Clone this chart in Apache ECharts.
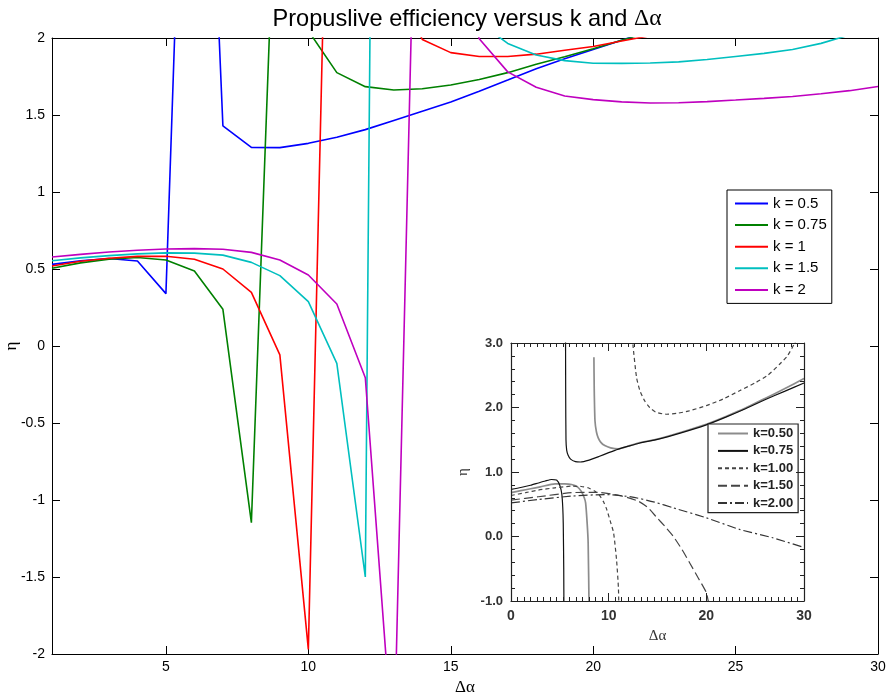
<!DOCTYPE html>
<html><head><meta charset="utf-8">
<script src="https://cdn.jsdelivr.net/npm/echarts@6/dist/echarts.min.js"></script>
<style>html,body{margin:0;padding:0;background:#fff}#c{width:890px;height:697px}</style>
</head><body><div id="c"></div>
<script>
// ---------- main chart data (x = Δα, 1..30) ----------
const xValues = [1,2,3,4,5,6,7,8,9,10,11,12,13,14,15,16,17,18,19,20,21,22,23,24,25,26,27,28,29,30];
const k05  = [0.53,0.553,0.568,0.552,0.34,5.8,1.43,1.29,1.288,1.316,1.355,1.405,1.465,1.525,1.585,1.655,1.727,1.80,1.865,1.925,1.985,2.05,2.11,2.17,2.23,2.29,2.35,2.41,2.47,2.53];
const k075 = [0.505,0.54,0.563,0.575,0.558,0.487,0.238,-1.147,3.86,2.047,1.775,1.684,1.662,1.67,1.695,1.73,1.775,1.83,1.878,1.93,1.985,2.04,2.1,2.16,2.22,2.28,2.34,2.4,2.46,2.52];
const k1   = [0.52,0.55,0.57,0.582,0.583,0.563,0.50,0.348,-0.058,-1.97,6.0,3.5,2.4,1.99,1.905,1.88,1.88,1.895,1.92,1.945,1.98,2.015,2.05,2.09,2.13,2.17,2.21,2.25,2.29,2.33];
const k15  = [0.554,0.572,0.587,0.598,0.605,0.603,0.59,0.543,0.457,0.288,-0.113,-1.50,20,5,3,2.1,1.965,1.89,1.853,1.836,1.835,1.838,1.845,1.86,1.88,1.90,1.925,1.965,2.02,2.07];
const k2   = [0.578,0.595,0.61,0.622,0.63,0.632,0.628,0.608,0.558,0.461,0.273,-0.206,-2.7,5.05,2.6,1.995,1.78,1.68,1.623,1.60,1.585,1.578,1.58,1.587,1.597,1.608,1.62,1.638,1.658,1.685];
const mainXTicks = [5,10,15,20,25,30];
const mainNames = ['k = 0.5','k = 0.75','k = 1','k = 1.5','k = 2'];

// ---------- inset data ----------
const i075UpX = [5.58,5.6,5.63,5.7,5.85,6.1,6.6,7.1,8,9,10,11,12,13.2,15,17.5,20,22,24,26,28,30];
const i075UpY = [3.3,2.2,1.5,1.34,1.26,1.2,1.16,1.155,1.185,1.24,1.3,1.355,1.40,1.45,1.505,1.61,1.73,1.85,1.98,2.12,2.25,2.38];
const i075LoX = [0,1,2,2.8,3.5,4.16,4.67,5.0,5.2,5.3,5.35,5.4,5.42];
const i075LoY = [0.73,0.76,0.795,0.83,0.86,0.884,0.875,0.79,0.66,0.45,0.2,-0.5,-1.2];
const i050UpX = [8.49,8.52,8.6,8.75,8.93,9.2,9.6,10.2,11,12,13.2,15,17.5,20,22,24,26,28,30];
const i050UpY = [2.78,2.3,1.79,1.62,1.53,1.46,1.41,1.375,1.36,1.40,1.455,1.51,1.62,1.74,1.86,1.99,2.14,2.29,2.45];
const i050LoX = [0,1,2,3,4.5,5.5,6.2,6.8,7.2,7.5,7.64,7.8,7.9,8.0];
const i050LoY = [0.68,0.71,0.74,0.77,0.815,0.815,0.806,0.77,0.70,0.6,0.52,0.2,-0.1,-1.2];
const i100UpX = [12.4,12.5,12.86,13.2,13.7,14.2,14.8,15.9,17,18.3,20,21.7,23.4,25.1,26.3,27.5,28.3,29.05,29.3];
const i100UpY = [3.2,2.95,2.46,2.26,2.10,2.0,1.93,1.895,1.91,1.95,2.03,2.13,2.26,2.39,2.5,2.67,2.8,3.0,3.1];
const i100LoX = [0,1.5,2.8,4.5,6.2,7.2,7.9,8.6,9.1,9.5,9.8,10.2,10.5,10.8,11.0,11.05];
const i100LoY = [0.636,0.68,0.72,0.755,0.78,0.775,0.755,0.7,0.63,0.53,0.42,0.22,0.06,-0.35,-0.8,-1.2];
const i150X = [0,2.8,6.2,8.9,11.3,13,14,14.9,15.8,16.6,17.5,18.3,19.2,20,20.2,20.4];
const i150Y = [0.565,0.616,0.68,0.685,0.63,0.55,0.45,0.30,0.15,0.006,-0.2,-0.41,-0.65,-0.87,-1.0,-1.1];
const i200X = [0,2.8,6.2,9.6,12.3,14.7,16.6,20,23.4,26.8,30];
const i200Y = [0.52,0.574,0.626,0.65,0.615,0.533,0.445,0.29,0.11,-0.02,-0.17];
const insetNames = ['k=0.50','k=0.75','k=1.00','k=1.50','k=2.00'];

const pair = (xs, ys) => xs.map((x, i) => [x, ys[i]]);
const SANS = 'Liberation Sans, Arial, sans-serif';
const NARROW = 'Liberation Sans Narrow, Arial Narrow, Liberation Sans, Arial, sans-serif';
const SERIF = 'Liberation Serif, Times New Roman, serif';

const mainColors = ['#0000ff','#008000','#ff0000','#00bfbf','#bf00bf'];
const mainData = [k05, k075, k1, k15, k2];
const series = mainData.map((arr, i) => ({
  name: mainNames[i], type: 'line', xAxisIndex: 0, yAxisIndex: 0,
  data: pair(xValues, arr), symbol: 'none', clip: true,
  lineStyle: { color: mainColors[i], width: 1.6 }, itemStyle: { color: mainColors[i] }
}));

const insetStyles = {
  'k=0.50': { color: '#8c8c8c', width: 1.7, type: 'solid' },
  'k=0.75': { color: '#111111', width: 1.2, type: 'solid' },
  'k=1.00': { color: '#444444', width: 1.2, type: [4, 3] },
  'k=1.50': { color: '#444444', width: 1.2, type: [9, 4] },
  'k=2.00': { color: '#333333', width: 1.2, type: [9, 3, 2, 3] }
};
function insetSeries(name, data) {
  const st = insetStyles[name];
  return { name, type: 'line', xAxisIndex: 2, yAxisIndex: 2, data, symbol: 'none', clip: true,
    smooth: 0.2, lineStyle: st, itemStyle: { color: st.color }, z: 5 };
}
series.push(insetSeries('k=0.50', pair(i050UpX, i050UpY)));
series.push(insetSeries('k=0.50', pair(i050LoX, i050LoY)));
series.push(insetSeries('k=0.75', pair(i075UpX, i075UpY)));
series.push(insetSeries('k=0.75', pair(i075LoX, i075LoY)));
series.push(insetSeries('k=1.00', pair(i100UpX, i100UpY)));
series.push(insetSeries('k=1.00', pair(i100LoX, i100LoY)));
series.push(insetSeries('k=1.50', pair(i150X, i150Y)));
series.push(insetSeries('k=2.00', pair(i200X, i200Y)));

const blackLine = { show: true, onZero: false, lineStyle: { color: '#000', width: 1 } };
const insetLine = { show: true, onZero: false, lineStyle: { color: '#222', width: 1.2 } };
const insetLabel = { fontFamily: NARROW, fontWeight: 'bold', fontSize: 13, color: '#333' };

const option = {
  animation: false,
  backgroundColor: '#fff',
  title: {
    text: 'Propuslive efficiency versus k and {s|Δα}',
    left: 462, top: 2, textAlign: 'center',
    textStyle: { fontFamily: SANS, fontSize: 23.6, fontWeight: 'normal', color: '#000',
      rich: { s: { fontFamily: SERIF, fontSize: 23.6, color: '#000' } } }
  },
  grid: [
    { left: 52, right: 12, top: 38, bottom: 43, outerBoundsMode: 'none', containLabel: false },
    { left: 511, top: 343, width: 293, height: 258, outerBoundsMode: 'none', containLabel: false,
      show: true, backgroundColor: '#fff', borderWidth: 0 }
  ],
  legend: [
    { data: mainNames, orient: 'vertical', left: 727, top: 190, padding: [6, 5, 6, 7],
      itemWidth: 33, itemHeight: 14, itemGap: 6.6, borderColor: '#000', borderWidth: 1,
      backgroundColor: '#fff', selectedMode: false, itemStyle: { opacity: 0 },
      textStyle: { fontFamily: SANS, fontSize: 15, color: '#000' } },
    { data: insetNames, orient: 'vertical', left: 708, top: 424, padding: [3, 5, 3, 9],
      itemWidth: 30, itemHeight: 14, itemGap: 4.4, borderColor: '#222', borderWidth: 1.2,
      backgroundColor: '#fff', selectedMode: false, z: 6, itemStyle: { opacity: 0 },
      textStyle: { fontFamily: SANS, fontSize: 13, fontWeight: 'bold', color: '#222' } }
  ],
  xAxis: [
    { type: 'value', gridIndex: 0, min: 1, max: 30, position: 'bottom',
      axisLine: blackLine, splitLine: { show: false },
      axisTick: { show: true, inside: true, length: 8, customValues: mainXTicks, lineStyle: { color: '#000' } },
      axisLabel: { customValues: mainXTicks, fontFamily: SANS, fontSize: 14, color: '#000', margin: 6 },
      name: 'Δα', nameLocation: 'middle', nameGap: 25, nameMoveOverlap: false,
      nameTextStyle: { fontFamily: SERIF, fontSize: 17, color: '#000' } },
    { type: 'value', gridIndex: 0, min: 1, max: 30, position: 'top',
      axisLine: blackLine, splitLine: { show: false },
      axisTick: { show: true, inside: true, length: 8, customValues: mainXTicks, lineStyle: { color: '#000' } },
      axisLabel: { show: false } },
    { type: 'value', gridIndex: 1, min: 0, max: 30, interval: 10, position: 'bottom', z: 10,
      axisLine: insetLine, splitLine: { show: false },
      axisTick: { show: true, inside: true, length: 8, lineStyle: { color: '#222' } },
      minorTick: { show: true, splitNumber: 15, length: 4, lineStyle: { color: '#222' } },
      axisLabel: Object.assign({ margin: 8 }, insetLabel, { fontSize: 14 }),
      name: 'Δα', nameLocation: 'middle', nameGap: 28,
      nameTextStyle: { fontFamily: SERIF, fontSize: 15, color: '#333' } },
    { type: 'value', gridIndex: 1, min: 0, max: 30, interval: 10, position: 'top', z: 10,
      axisLine: insetLine, splitLine: { show: false },
      axisTick: { show: true, inside: true, length: 8, lineStyle: { color: '#222' } },
      minorTick: { show: true, splitNumber: 15, length: 4, lineStyle: { color: '#222' } },
      axisLabel: { show: false } }
  ],
  yAxis: [
    { type: 'value', gridIndex: 0, min: -2, max: 2, interval: 0.5, position: 'left',
      axisLine: blackLine, splitLine: { show: false },
      axisTick: { show: true, inside: true, length: 8, lineStyle: { color: '#000' } },
      axisLabel: { fontFamily: SANS, fontSize: 14, color: '#000', margin: 7 },
      name: 'η', nameLocation: 'middle', nameGap: 32, nameRotate: 90, nameMoveOverlap: false,
      nameTextStyle: { fontFamily: SERIF, fontSize: 17, color: '#000' } },
    { type: 'value', gridIndex: 0, min: -2, max: 2, interval: 0.5, position: 'right',
      axisLine: blackLine, splitLine: { show: false },
      axisTick: { show: true, inside: true, length: 8, lineStyle: { color: '#000' } },
      axisLabel: { show: false } },
    { type: 'value', gridIndex: 1, min: -1, max: 3, interval: 1, position: 'left', z: 10,
      axisLine: insetLine, splitLine: { show: false },
      axisTick: { show: true, inside: true, length: 8, lineStyle: { color: '#222' } },
      minorTick: { show: true, splitNumber: 5, length: 4, lineStyle: { color: '#222' } },
      axisLabel: Object.assign({ margin: 8, formatter: v => v.toFixed(1) }, insetLabel),
      name: 'η', nameLocation: 'middle', nameGap: 40, nameRotate: 90,
      nameTextStyle: { fontFamily: SERIF, fontSize: 15, color: '#333' } },
    { type: 'value', gridIndex: 1, min: -1, max: 3, interval: 1, position: 'right', z: 10,
      axisLine: insetLine, splitLine: { show: false },
      axisTick: { show: true, inside: true, length: 8, lineStyle: { color: '#222' } },
      minorTick: { show: true, splitNumber: 5, length: 4, lineStyle: { color: '#222' } },
      axisLabel: { show: false } }
  ],
  series
};
const chart = echarts.init(document.getElementById('c'), null, { renderer: 'canvas' });
chart.setOption(option);
</script>
</body></html>
